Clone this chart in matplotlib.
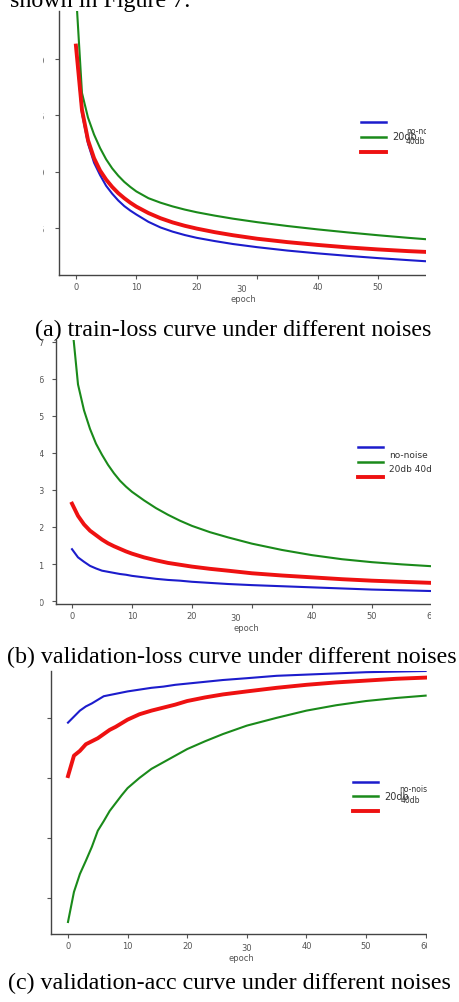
import matplotlib
matplotlib.use("Agg")
import matplotlib.pyplot as plt
import matplotlib.transforms as mtransforms
from matplotlib.patches import Rectangle

W, H = 459, 1003

epochs = [0, 1, 2, 3, 4, 5, 6, 7, 8, 9, 10, 12, 14, 16, 18, 20, 23, 26, 30, 35, 40, 45, 50, 55, 60]

# (a) train loss
train_no_noise = [0.212, 0.152, 0.125, 0.108, 0.097, 0.0875, 0.0805, 0.0745, 0.0695, 0.0655, 0.062, 0.0555, 0.0505,
                  0.0468, 0.0438, 0.0413, 0.0384, 0.0358, 0.0330, 0.0300, 0.0275, 0.0253, 0.0233, 0.0215, 0.0198]
train_20db = [0.260, 0.170, 0.148, 0.133, 0.121, 0.111, 0.103, 0.0965, 0.091, 0.0865, 0.0825, 0.0765, 0.0725,
              0.0692, 0.0664, 0.0640, 0.0610, 0.0583, 0.0552, 0.0518, 0.0488, 0.0461, 0.0436, 0.0413, 0.0392]
train_40db = [0.212, 0.155, 0.128, 0.112, 0.101, 0.093, 0.0865, 0.081, 0.0765, 0.0725, 0.069, 0.0633, 0.0587,
              0.0550, 0.0520, 0.0495, 0.0463, 0.0436, 0.0405, 0.0375, 0.0350, 0.0328, 0.0310, 0.0295, 0.0283]

# (b) validation loss
val_loss_no_noise = [1.40, 1.18, 1.06, 0.95, 0.88, 0.82, 0.79, 0.76, 0.73, 0.71, 0.68, 0.64, 0.60,
                     0.57, 0.55, 0.52, 0.49, 0.46, 0.43, 0.40, 0.37, 0.34, 0.31, 0.29, 0.27]
val_loss_20db = [7.50, 5.85, 5.15, 4.65, 4.25, 3.95, 3.68, 3.45, 3.25, 3.09, 2.95, 2.72, 2.51,
                 2.33, 2.17, 2.03, 1.86, 1.72, 1.55, 1.38, 1.24, 1.13, 1.05, 0.99, 0.94]
val_loss_40db = [2.63, 2.30, 2.07, 1.90, 1.78, 1.66, 1.56, 1.48, 1.41, 1.34, 1.28, 1.18, 1.10,
                 1.03, 0.98, 0.93, 0.87, 0.82, 0.75, 0.69, 0.64, 0.59, 0.55, 0.52, 0.49]

# (c) validation accuracy
val_acc_no_noise = [0.892, 0.902, 0.912, 0.919, 0.924, 0.930, 0.936, 0.938, 0.940, 0.942, 0.944, 0.947, 0.950,
                    0.952, 0.955, 0.957, 0.960, 0.963, 0.966, 0.970, 0.972, 0.974, 0.976, 0.977, 0.978]
val_acc_20db = [0.560, 0.610, 0.640, 0.662, 0.685, 0.712, 0.728, 0.745, 0.758, 0.771, 0.783, 0.800, 0.815,
                0.826, 0.837, 0.848, 0.861, 0.873, 0.887, 0.900, 0.912, 0.921, 0.928, 0.933, 0.937]
val_acc_40db = [0.803, 0.837, 0.845, 0.856, 0.861, 0.866, 0.873, 0.880, 0.885, 0.891, 0.897, 0.906, 0.912,
                0.917, 0.922, 0.928, 0.934, 0.939, 0.944, 0.950, 0.955, 0.959, 0.962, 0.965, 0.967]

xticks = [0, 10, 20, 30, 40, 50, 60]
captions = ["(a) train-loss curve under different noises",
            "(b) validation-loss curve under different noises",
            "(c) validation-acc curve under different noises"]

BLUE, GREEN, RED = "#1c1ccc", "#1a8a1a", "#ee1111"
TICK_C = "#555555"


def fx(x):
    return x / W


def fy(y):
    return 1 - y / H


def make_axes(fig, left, right, top, bottom):
    ax = fig.add_axes([fx(left), fy(bottom), (right - left) / W, (bottom - top) / H])
    for s in ["top", "right"]:
        ax.spines[s].set_visible(False)
    for s in ["left", "bottom"]:
        ax.spines[s].set_color("#444444")
        ax.spines[s].set_linewidth(1.0)
    ax.tick_params(colors=TICK_C, labelsize=6, length=3, width=0.8)
    ax.tick_params(axis="x", pad=2)
    ax.set_xticks(xticks)
    ax.set_xlabel("epoch", fontsize=6, color=TICK_C, labelpad=1)
    return ax


def draw(ax, a, b, c):
    l1, = ax.plot(epochs, a, color=BLUE, lw=1.5)
    l2, = ax.plot(epochs, b, color=GREEN, lw=1.5)
    l3, = ax.plot(epochs, c, color=RED, lw=2.8)
    return [l1, l2, l3]


def cover(fig, x0, y0, x1, y1):
    fig.add_artist(Rectangle((fx(x0), fy(y1)), (x1 - x0) / W, (y1 - y0) / H,
                             transform=fig.transFigure, facecolor="white",
                             edgecolor="none", zorder=4))


def handles(ax, lines, x, y):
    leg = ax.legend(lines, ["", "", ""], loc="upper left", bbox_to_anchor=(fx(x), fy(y)),
                    bbox_transform=ax.figure.transFigure, frameon=False, fontsize=7,
                    handlelength=2.6, labelspacing=0.5, borderpad=0, borderaxespad=0,
                    handletextpad=0)
    for h, lw in zip(leg.get_lines(), [1.8, 1.8, 2.8]):
        h.set_linewidth(lw)


def shift_label(ax, fig, idx, dx, dy):
    lab = ax.xaxis.get_major_ticks()[idx].label1
    lab.set_transform(lab.get_transform() + mtransforms.ScaledTranslation(dx / 100, dy / 100, fig.dpi_scale_trans))


def main():
    fig = plt.figure(figsize=(W / 100, H / 100), dpi=100)
    serif = "Liberation Serif"

    # (a)
    ax = make_axes(fig, 59, 427, 12, 276)
    lines = draw(ax, train_no_noise, train_20db, train_40db)
    ax.set_xlim(-2.8, 58.1)
    ax.set_ylim(0.0083, 0.2427)
    ax.set_yticks([0.05, 0.10, 0.15, 0.20])
    ax.tick_params(axis="y", pad=7)
    handles(ax, lines, 361, 118.5)
    fig.text(fx(392), fy(137), "20db", fontsize=7, color="#333333", va="center")
    fig.text(fx(406), fy(132), "no-noise", fontsize=5.5, color="#333333", va="center")
    fig.text(fx(406), fy(142), "40db", fontsize=5.5, color="#333333", va="center")
    shift_label(ax, fig, 3, -16, -2)
    cover(fig, 0, 12, 43, 282)
    cover(fig, 426, 12, W, 310)

    # (b)
    ax = make_axes(fig, 56, 436, 341, 605)
    lines = draw(ax, val_loss_no_noise, val_loss_20db, val_loss_40db)
    ax.set_xlim(-2.67, 60.7)
    ax.set_ylim(-0.08, 7.05)
    ax.set_yticks(range(8))
    ax.tick_params(axis="y", pad=6)
    handles(ax, lines, 358, 443.5)
    fig.text(fx(389), fy(456), "no-noise", fontsize=6.5, color="#333333", va="center")
    fig.text(fx(389), fy(469), "20db 40db", fontsize=6.5, color="#333333", va="center")
    shift_label(ax, fig, 3, -16, -2)
    cover(fig, 0, 342, 40, 612)
    cover(fig, 431, 342, W, 640)

    # (c)
    ax = make_axes(fig, 51, 431, 672, 935)
    lines = draw(ax, val_acc_no_noise, val_acc_20db, val_acc_40db)
    ax.set_xlim(-2.85, 60.9)
    ax.set_ylim(0.54, 0.978)
    ax.set_yticks([0.6, 0.7, 0.8, 0.9])
    handles(ax, lines, 353, 778)
    fig.text(fx(384), fy(797), "20db", fontsize=7, color="#333333", va="center")
    fig.text(fx(399), fy(790), "no-noise", fontsize=5.5, color="#333333", va="center")
    fig.text(fx(401), fy(801), "40db", fontsize=5.5, color="#333333", va="center")
    shift_label(ax, fig, 3, 0, -2)
    cover(fig, 0, 672, 47, 940)
    cover(fig, 427, 672, W, 968)

    # page text and captions
    fig.text(fx(190), fy(7), "shown in Figure 7.", fontsize=17.3, family=serif,
             ha="right", va="baseline", zorder=5)
    fig.text(fx(233.5), fy(336), captions[0], fontsize=17.3, family=serif,
             ha="center", va="baseline", zorder=5)
    fig.text(fx(231.5), fy(663), captions[1], fontsize=17.3, family=serif,
             ha="center", va="baseline", zorder=5)
    fig.text(fx(229), fy(989), captions[2], fontsize=17.3, family=serif,
             ha="center", va="baseline", zorder=5)

    fig.savefig("out.png", dpi=100)


if __name__ == "__main__":
    main()
